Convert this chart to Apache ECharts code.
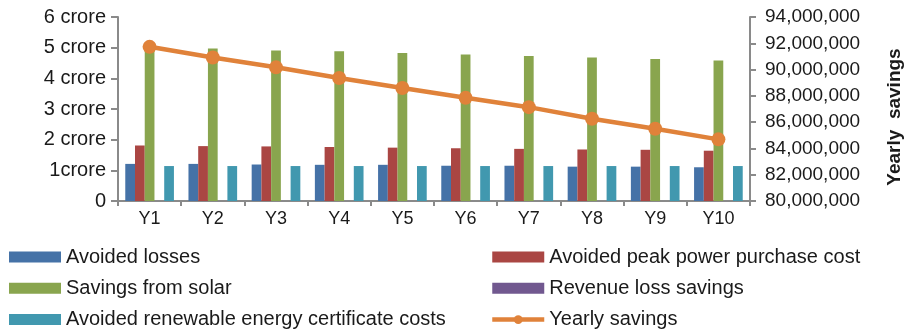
<!DOCTYPE html>
<html>
<head>
<meta charset="utf-8">
<script src="https://cdn.jsdelivr.net/npm/echarts@6/dist/echarts.min.js"></script>
<style>
  html, body { margin: 0; padding: 0; background: #fff; }
  #chart { width: 905px; height: 334px; }
</style>
</head>
<body>
<div id="chart"></div>
<script>
// Years of the project
const years = ['Y1', 'Y2', 'Y3', 'Y4', 'Y5', 'Y6', 'Y7', 'Y8', 'Y9', 'Y10'];

// Savings components, in crore (1 crore = 10,000,000)
const avoidedLosses = [1.21, 1.21, 1.19, 1.18, 1.18, 1.15, 1.15, 1.12, 1.12, 1.10];
const avoidedPeakPurchase = [1.81, 1.79, 1.78, 1.76, 1.74, 1.72, 1.70, 1.68, 1.67, 1.64];
const savingsFromSolar = [5.03, 4.97, 4.91, 4.88, 4.83, 4.78, 4.73, 4.68, 4.63, 4.58];
const revenueLossSavings = [0, 0, 0, 0, 0, 0, 0, 0, 0, 0];
const avoidedRecCosts = [1.14, 1.14, 1.14, 1.14, 1.14, 1.14, 1.14, 1.14, 1.14, 1.14];

// Total yearly savings, in rupees
const yearlySavings = [91730000, 90920000, 90170000, 89360000, 88600000, 87850000, 87140000, 86260000, 85500000, 84690000];

// Left axis tick labels
const croreLabels = ['0', '1crore', '2 crore', '3 crore', '4 crore', '5 crore', '6 crore'];

const FONT = '"Liberation Sans", Arial, sans-serif';
const AXIS_GREY = '#8a8a8a';
const TEXT = '#1a1a1a';
const LINE_ORANGE = '#E0823A';

function withCommas(v) {
  return String(Math.round(v)).replace(/\B(?=(\d{3})+(?!\d))/g, ',');
}

const chart = echarts.init(document.getElementById('chart'), null, { renderer: 'canvas' });

function barSeries(name, data, color) {
  return {
    name: name,
    type: 'bar',
    yAxisIndex: 0,
    data: data,
    barGap: '0%',
    barCategoryGap: '23%',
    itemStyle: { color: color }
  };
}

const legendCommon = {
  orient: 'vertical',
  top: 247,
  height: 90,
  padding: 0,
  itemWidth: 52,
  itemHeight: 11,
  itemGap: 11.3,
  textStyle: { fontFamily: FONT, fontSize: 20, color: TEXT }
};

chart.setOption({
  animation: false,
  textStyle: { fontFamily: FONT },
  grid: {
    left: 118, right: 155, top: 17, bottom: 133,
    containLabel: false,
    outerBoundsMode: 'none'
  },
  legend: [
    Object.assign({}, legendCommon, {
      left: 9,
      data: [
        { name: 'Avoided losses', icon: 'rect' },
        { name: 'Savings from solar', icon: 'rect' },
        { name: 'Avoided renewable energy certificate costs', icon: 'rect' }
      ]
    }),
    Object.assign({}, legendCommon, {
      left: 490,
      data: [
        { name: 'Avoided peak power purchase cost', icon: 'rect' },
        { name: 'Revenue loss savings', icon: 'rect' },
        { name: 'Yearly savings', lineStyle: { width: 4.5, color: LINE_ORANGE } }
      ]
    })
  ],
  xAxis: {
    type: 'category',
    data: years,
    axisLine: { lineStyle: { color: AXIS_GREY, width: 2 } },
    axisTick: { show: true, length: 5, lineStyle: { color: AXIS_GREY, width: 2 } },
    axisLabel: { fontFamily: FONT, fontSize: 18, color: TEXT, margin: 9 }
  },
  yAxis: [
    {
      type: 'value',
      min: 0,
      max: 6,
      interval: 1,
      splitLine: { show: false },
      axisLine: { show: true, lineStyle: { color: AXIS_GREY, width: 2 } },
      axisTick: { show: true, length: 7, lineStyle: { color: AXIS_GREY, width: 2 } },
      axisLabel: {
        fontFamily: FONT, fontSize: 20, color: TEXT, margin: 12,
        formatter: function (v) { return croreLabels[Math.round(v)]; }
      }
    },
    {
      type: 'value',
      position: 'right',
      min: 80000000,
      max: 94000000,
      interval: 2000000,
      splitLine: { show: false },
      axisLine: { show: true, lineStyle: { color: AXIS_GREY, width: 2 } },
      axisTick: { show: true, length: 6, lineStyle: { color: AXIS_GREY, width: 2 } },
      axisLabel: {
        fontFamily: FONT, fontSize: 19, color: TEXT, margin: 15,
        formatter: withCommas
      },
      name: 'Yearly  savings',
      nameLocation: 'middle',
      nameRotate: 90,
      nameGap: 135,
      nameTextStyle: {
        fontFamily: FONT, fontSize: 19, fontWeight: 'bold', color: TEXT,
        padding: [0, 16, 0, 0]
      }
    }
  ],
  series: [
    barSeries('Avoided losses', avoidedLosses, '#4572A7'),
    barSeries('Avoided peak power purchase cost', avoidedPeakPurchase, '#AA4643'),
    barSeries('Savings from solar', savingsFromSolar, '#89A54E'),
    barSeries('Revenue loss savings', revenueLossSavings, '#71588F'),
    barSeries('Avoided renewable energy certificate costs', avoidedRecCosts, '#4198AF'),
    {
      name: 'Yearly savings',
      type: 'line',
      yAxisIndex: 1,
      data: yearlySavings,
      symbol: 'circle',
      symbolSize: 14,
      lineStyle: { color: LINE_ORANGE, width: 4.5 },
      itemStyle: { color: LINE_ORANGE },
      z: 5
    }
  ]
});
</script>
</body>
</html>
